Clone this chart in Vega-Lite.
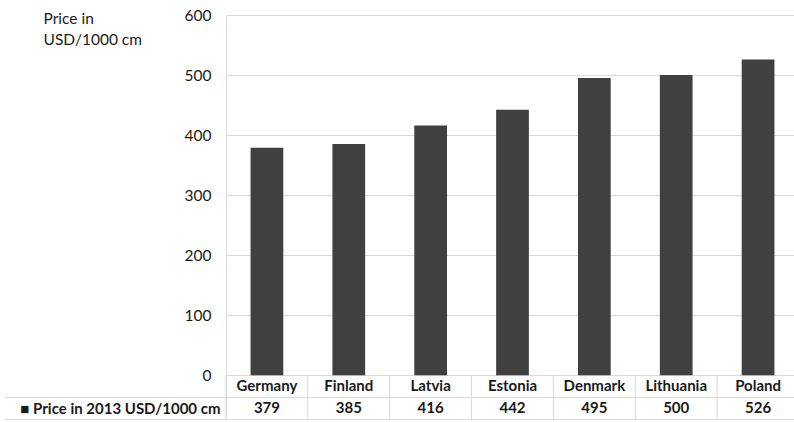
{
  "$schema": "https://vega.github.io/schema/vega-lite/v6.json",
  "width": 568,
  "height": 404,
  "autosize": {"type": "none"},
  "padding": {"left": 226, "top": 15, "right": 0, "bottom": 3},
  "config": {"view": {"stroke": null}, "font": "Lato"},
  "data": {
    "values": [
      {"country": "Germany", "price": 379},
      {"country": "Finland", "price": 385},
      {"country": "Latvia", "price": 416},
      {"country": "Estonia", "price": 442},
      {"country": "Denmark", "price": 495},
      {"country": "Lithuania", "price": 500},
      {"country": "Poland", "price": 526}
    ]
  },
  "encoding": {
    "x": {
      "field": "country",
      "type": "nominal",
      "sort": null,
      "scale": {"paddingInner": 0, "paddingOuter": 0, "range": [0, 573]},
      "axis": null
    }
  },
  "layer": [
    {
      "mark": {"type": "bar", "color": "#404040", "width": {"band": 0.4}},
      "encoding": {
        "y": {
          "field": "price",
          "type": "quantitative",
          "scale": {"domain": [-73, 600], "nice": false},
          "axis": {
            "values": [-73, -55, -36.5, 0, 100, 200, 300, 400, 500, 600],
            "labelExpr": "datum.value == -55 ? '■ Price in 2013 USD/1000 cm' : (datum.value < 0 ? '' : datum.label)",
            "ticks": true,
            "tickSize": {"condition": {"test": "datum.value == -36.5 || datum.value == -73", "value": 221}, "value": 0},
            "tickColor": "#d9d9d9",
            "labelPadding": {"condition": {"test": "datum.value == -55", "value": 6}, "value": 15},
            "labelFontWeight": {"condition": {"test": "datum.value == -55", "value": "bold"}, "value": "normal"},
            "labelFontSize": {"condition": {"test": "datum.value == -55", "value": 15}, "value": 15.5},
            "labelColor": "#1a1a1a",
            "labelLimit": 0,
            "labelOverlap": false,
            "labelFlush": false,
            "grid": true,
            "gridColor": {"condition": {"test": "datum.value == -55", "value": "transparent"}, "value": "#d9d9d9"},
            "domainColor": "#d9d9d9",
            "title": ["Price in", "USD/1000 cm"],
            "titleAngle": 0,
            "titleAlign": "left",
            "titleBaseline": "alphabetic",
            "titleX": -183,
            "titleY": 8,
            "titleFontWeight": "normal",
            "titleFontSize": 15.5,
            "titleLineHeight": 21,
            "titleColor": "#1a1a1a"
          }
        },
        "y2": {"datum": 0}
      }
    },
    {
      "mark": {"type": "rule", "color": "#d9d9d9"},
      "encoding": {
        "x": {"field": "country", "type": "nominal", "sort": null, "bandPosition": 0},
        "y": {"datum": 0, "type": "quantitative"},
        "y2": {"datum": -73}
      }
    },
    {
      "mark": {"type": "text", "fontWeight": "bold", "fontSize": 15, "color": "#1a1a1a", "baseline": "middle"},
      "encoding": {
        "y": {"datum": -18, "type": "quantitative"},
        "text": {"field": "country", "type": "nominal"}
      }
    },
    {
      "mark": {"type": "text", "fontWeight": "bold", "fontSize": 15, "color": "#1a1a1a", "baseline": "middle"},
      "encoding": {
        "y": {"datum": -55, "type": "quantitative"},
        "text": {"field": "price", "type": "quantitative"}
      }
    }
  ]
}
